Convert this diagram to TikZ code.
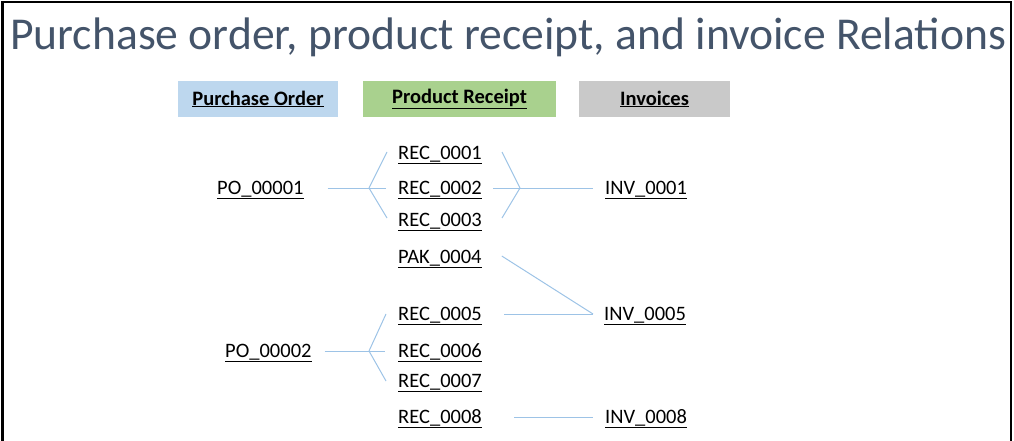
\documentclass[tikz,border=0pt]{standalone}
\usepackage{fontspec}
\setmainfont{Carlito}
\definecolor{titlec}{HTML}{44546A}
\definecolor{pob}{HTML}{BDD7EE}
\definecolor{prb}{HTML}{A9D18E}
\definecolor{invb}{HTML}{C9C9C9}
\definecolor{linkc}{HTML}{9DC3E6}
\begin{document}
\begin{tikzpicture}[x=1pt,y=-1pt,
  item/.style={anchor=west,inner sep=0pt,text height=13pt,text depth=0pt,font=\fontsize{20.5}{24}\selectfont},
  head/.style={inner sep=0pt,minimum height=36pt,font=\fontsize{20.5}{24}\selectfont\bfseries},
  link/.style={draw=linkc,line width=1pt}]
\useasboundingbox (0,0) rectangle (1014,441);
\draw[line width=2.5pt] (2.5,445) -- (2.5,2) -- (1011,2) -- (1011,445);
\node[anchor=base west,inner sep=0pt,text=titlec,font=\fontsize{45.6}{54}\selectfont] (title) at (10,50) {Purchase order, product receipt, and invoice Relations};
% headers
\node[head,fill=pob,minimum width=160pt] (hpo) at (258,99) {\underline{Purchase Order}};
\node[head,fill=prb,minimum width=193pt] (hpr) at (459.5,99) {\underline{Product Receipt}};
\node[head,fill=invb,minimum width=151pt] (hinv) at (654.5,99) {\underline{Invoices}};
% items
\node[item] (po1) at (217,188) {\underline{PO\_00001}};
\node[item] (po2) at (225,351) {\underline{PO\_00002}};
\node[item] (rec1) at (398,153) {\underline{REC\_0001}};
\node[item] (rec2) at (398,188) {\underline{REC\_0002}};
\node[item] (rec3) at (398,220) {\underline{REC\_0003}};
\node[item] (pak4) at (398,257) {\underline{PAK\_0004}};
\node[item] (rec5) at (398,314) {\underline{REC\_0005}};
\node[item] (rec6) at (398,351) {\underline{REC\_0006}};
\node[item] (rec7) at (398,381) {\underline{REC\_0007}};
\node[item] (rec8) at (398,417) {\underline{REC\_0008}};
\node[item] (inv1) at (605,188) {\underline{INV\_0001}};
\node[item] (inv5) at (604,314) {\underline{INV\_0005}};
\node[item] (inv8) at (605,417) {\underline{INV\_0008}};
% fork points
\coordinate (f1) at (369,188);
\coordinate (f2) at (520,188);
\coordinate (f3) at (369,351);
\coordinate (j5) at (593,314);
% connectors
\draw[link] ([xshift=24pt]po1.east) -- (f1);
\draw[link] (f1) -- ([xshift=-11pt,yshift=1pt]rec1.west);
\draw[link] (f1) -- ([xshift=-12pt]rec2.west);
\draw[link] (f1) -- ([xshift=-11pt,yshift=2pt]rec3.west);
\draw[link] ([xshift=20pt,yshift=1pt]rec1.east) -- (f2);
\draw[link] ([xshift=11pt]rec2.east) -- (f2);
\draw[link] ([xshift=20pt,yshift=2pt]rec3.east) -- (f2);
\draw[link] (f2) -- ([xshift=-12pt]inv1.west);
\draw[link] ([xshift=20pt,yshift=1pt]pak4.east) -- (j5);
\draw[link] ([xshift=22pt]rec5.east) -- (j5);
\draw[link] ([xshift=13pt]po2.east) -- (f3);
\draw[link] (f3) -- ([xshift=-12pt]rec5.west);
\draw[link] (f3) -- ([xshift=-13pt]rec6.west);
\draw[link] (f3) -- ([xshift=-12pt]rec7.west);
\draw[link] ([xshift=32pt]rec8.east) -- ([xshift=-12pt]inv8.west);
\end{tikzpicture}
\end{document}
